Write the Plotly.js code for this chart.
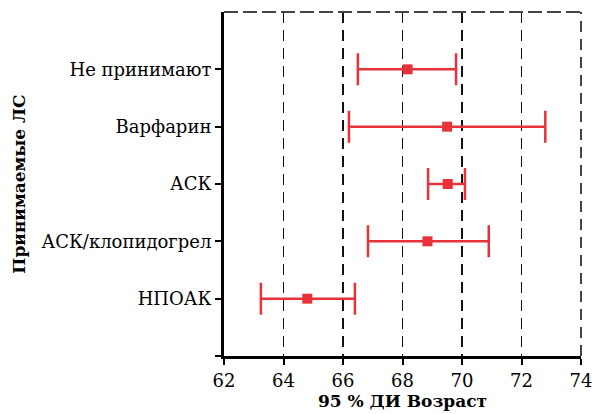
<!DOCTYPE html>
<html>
<head>
<meta charset="utf-8">
<script src="https://cdn.plot.ly/plotly-3.0.1.min.js"></script>
<style>html,body{margin:0;padding:0;background:#fff}</style>
</head>
<body>
<div id="chart" style="width:592px;height:414px"></div>
<script>
const categories = ["Не принимают", "Варфарин", "АСК", "АСК/клопидогрел", "НПОАК"];
const means = [68.17, 69.5, 69.52, 68.84, 64.8];
const lows  = [66.5, 66.2, 68.86, 66.84, 63.24];
const highs = [69.8, 72.8, 70.1, 70.9, 66.4];
const xTicks = [62, 64, 66, 68, 70, 72, 74];

const red = "#e8323a";
const ypos = categories.map((c, i) => i);
const serif = "DejaVu Serif";

const trace = {
  type: "scatter",
  mode: "markers",
  x: means,
  y: ypos,
  marker: {symbol: "square", size: 10, color: red},
  error_x: {
    type: "data",
    symmetric: false,
    array: highs.map((h, i) => h - means[i]),
    arrayminus: lows.map((l, i) => means[i] - l),
    color: red,
    thickness: 2.5,
    width: 16
  },
  hoverinfo: "skip"
};

const layout = {
  width: 592, height: 414,
  margin: {l: 224, r: 11, t: 12, b: 58},
  paper_bgcolor: "#fff", plot_bgcolor: "#fff",
  showlegend: false,
  font: {family: serif, color: "#000", size: 18},
  xaxis: {
    range: [62, 74],
    tickvals: xTicks,
    ticktext: xTicks.map(String),
    ticklabeloverflow: "allow",
    showgrid: true, gridcolor: "#111", gridwidth: 1.5, griddash: "11px,7px",
    showline: true, linecolor: "#000", linewidth: 3,
    ticks: "outside", ticklen: 6, tickwidth: 2, tickcolor: "#000",
    zeroline: false,
    tickfont: {family: serif, size: 18},
    title: {text: "<b>95 % ДИ Возраст</b>", font: {family: serif, size: 17}, standoff: 6}
  },
  yaxis: {
    range: [5, -1],
    tickvals: [...ypos, 5],
    ticktext: [...categories, ""],
    showgrid: false,
    showline: true, linecolor: "#000", linewidth: 3,
    ticks: "outside", ticklen: 6, tickwidth: 2, tickcolor: "#000",
    zeroline: false,
    tickfont: {family: serif, size: 18},
    title: {text: "<b>Принимаемые ЛС</b>", font: {family: serif, size: 17}, standoff: 12}
  },
  shapes: [
    {type: "line", xref: "paper", yref: "paper", x0: 0, x1: 1, y0: 1, y1: 1,
     line: {color: "#444", width: 2, dash: "14px,5px"}},
    {type: "line", xref: "paper", yref: "paper", x0: 1, x1: 1, y0: 0, y1: 1,
     line: {color: "#444", width: 2, dash: "11px,7px"}}
  ]
};

Plotly.newPlot("chart", [trace], layout, {displayModeBar: false, staticPlot: true});
</script>
</body>
</html>
